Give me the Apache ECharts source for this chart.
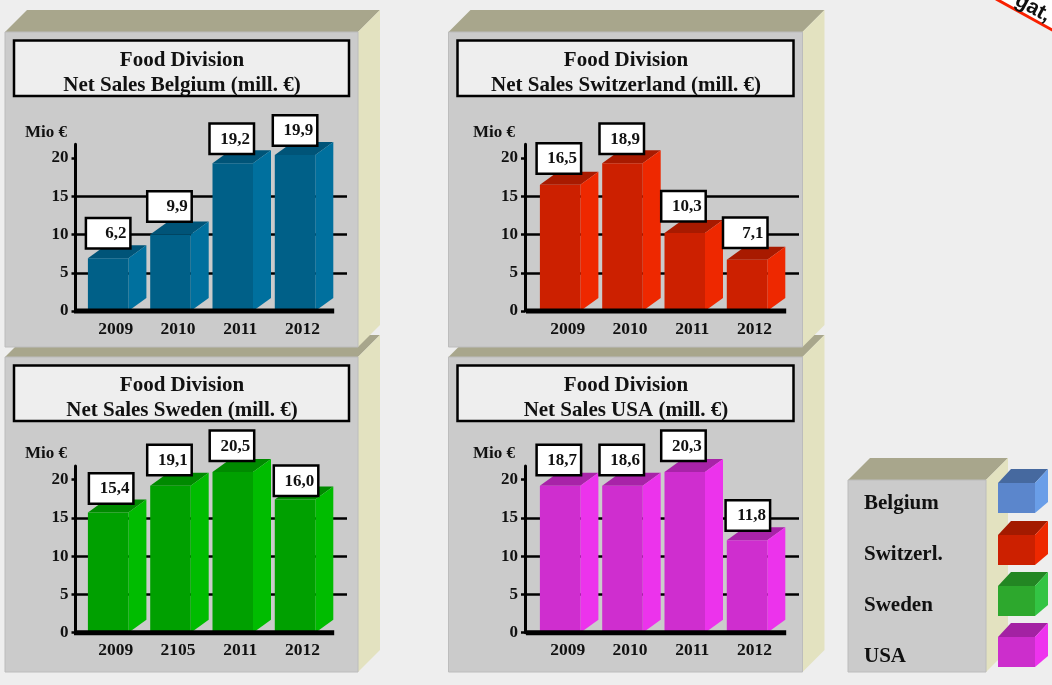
<!DOCTYPE html>
<html>
<head>
<meta charset="utf-8">
<title>Food Division Net Sales</title>
<style>
  html, body { margin: 0; padding: 0; background: #eeeeee; overflow: hidden; }
  #chart { width: 1052px; height: 685px; filter: blur(0.4px); }
</style>
<script src="https://cdn.jsdelivr.net/npm/echarts@6/dist/echarts.min.js"></script>
</head>
<body>
<div id="chart"></div>
<script>
// data: heights are what the bars show, labels what the boxes say
const belgiumYears = ["2009", "2010", "2011", "2012"];
const belgiumHeights = [6.9, 10.0, 19.3, 20.4];
const belgiumLabels = ["6,2", "9,9", "19,2", "19,9"];

const switzerlandYears = ["2009", "2010", "2011", "2012"];
const switzerlandHeights = [16.5, 19.3, 10.2, 6.7];
const switzerlandLabels = ["16,5", "18,9", "10,3", "7,1"];

const swedenYears = ["2009", "2105", "2011", "2012"];
const swedenHeights = [15.7, 19.2, 21.0, 17.4];
const swedenLabels = ["15,4", "19,1", "20,5", "16,0"];

const usaYears = ["2009", "2010", "2011", "2012"];
const usaHeights = [19.2, 19.2, 21.0, 12.1];
const usaLabels = ["18,7", "18,6", "20,3", "11,8"];

const yTicks = [0, 5, 10, 15, 20];
const legendNames = ["Belgium", "Switzerl.", "Sweden", "USA"];

const SERIF = '"Liberation Serif", serif';
const TEXT = "#111111";
const AXIS_MAX = 21.8;

// layout of the four panels, px
const panels = [
  // the lower ones go first, the upper panel covers their top face
  {
    title: "Net Sales Sweden (mill. €)", years: swedenYears, heights: swedenHeights, labels: swedenLabels,
    front: [5, 357, 353, 315], axisX: 75.5, barsX: 77, zeroY: 632.7, mioX: 25, mioY: 454,
    colors: ["#00a000", "#00bc00", "#008a00"],
    offsets: [[3, -24], [-1, -25.7], [-0.8, -26.4], [1, -18.8]]
  },
  {
    title: "Net Sales USA (mill. €)", years: usaYears, heights: usaHeights, labels: usaLabels,
    front: [448.5, 357, 354, 315], axisX: 525, barsX: 529, zeroY: 632.7, mioX: 473, mioY: 454,
    colors: ["#cf2ecf", "#ec33ec", "#a823a8"],
    offsets: [[-1.3, -25.7], [-0.7, -25.7], [-1.3, -26.4], [0.8, -24.7]]
  },
  {
    title: "Net Sales Belgium (mill. €)", years: belgiumYears, heights: belgiumHeights, labels: belgiumLabels,
    front: [5, 32, 353, 315], axisX: 75.5, barsX: 77, zeroY: 311, mioX: 25, mioY: 133,
    colors: ["#006088", "#00709e", "#005478"],
    offsets: [[0, -25], [-1, -28], [-1, -24.5], [0, -24.5]]
  },
  {
    title: "Net Sales Switzerland (mill. €)", years: switzerlandYears, heights: switzerlandHeights, labels: switzerlandLabels,
    front: [448.5, 32, 354, 315], axisX: 525, barsX: 529, zeroY: 311, mioX: 473, mioY: 133,
    colors: ["#cc2000", "#ee2800", "#a81a00"],
    offsets: [[-1.3, -26.3], [-0.7, -24.6], [-1.3, -26.6], [-1.8, -27]]
  }
];

const legendColors = [
  ["#5b86cc", "#6a9ee8", "#46699f"],
  ["#cc2000", "#ee2800", "#a31a00"],
  ["#2da82d", "#33c444", "#238623"],
  ["#cc2ecc", "#ee33ee", "#a322a3"]
];
const legendTextY = [504, 555, 606, 657];
const legendCubeY = [483, 535, 586, 637];

const BAND = 62.3;
const BAR_W = 40.5;
const DEPTH_X = 18;
const DEPTH_Y = 13;
const BOX_W = 44.5;
const BOX_H = 30.5;

const poly = (points, fill, z, stroke) => ({
  type: "polygon",
  silent: true,
  z: z,
  shape: { points: points },
  style: { fill: fill, stroke: stroke || null, lineWidth: stroke ? 1 : 0 }
});

const text = (x, y, str, size, align, z) => ({
  type: "text",
  silent: true,
  z: z,
  x: x,
  y: y,
  style: {
    text: str,
    fill: TEXT,
    font: "bold " + size + "px " + SERIF,
    textAlign: align,
    textVerticalAlign: "middle"
  }
});

// a box with a top and a right face
const boxPanel = (x, y, w, h, d, z) => [
  poly([[x, y], [x + d, y - d], [x + w + d, y - d], [x + w, y]], "#a8a68c", z),
  poly([[x + w, y], [x + w + d, y - d], [x + w + d, y + h - d], [x + w, y + h]], "#e3e2c0", z),
  poly([[x, y], [x + w, y], [x + w, y + h], [x, y + h]], "#cbcbcb", z, "#bcbcbc")
];

const graphics = [];
panels.forEach((p, i) => {
  const [x, y, w, h] = p.front;
  const z = -100 + i * 10;
  graphics.push(...boxPanel(x, y, w, h, 22, z));
  graphics.push({
    type: "rect",
    silent: true,
    z: z + 1,
    shape: { x: x + 9, y: y + 8.5, width: w - 18, height: 55.5 },
    style: { fill: "#eeeeee", stroke: "#000000", lineWidth: 2.5 }
  });
  const cx = x + w / 2 + 0.5;
  graphics.push(text(cx, y + 29, "Food Division", 21, "center", z + 2));
  graphics.push(text(cx, y + 54, p.title, 21, "center", z + 2));
  graphics.push(text(p.mioX, p.mioY, "Mio €", 17, "left", z + 2));
});

// legend block
graphics.push(...boxPanel(848, 480, 138, 192, 22, -50));
legendNames.forEach((name, i) => {
  const y = legendCubeY[i];
  const c = legendColors[i];
  graphics.push(text(864, legendTextY[i], name, 21, "left", -48));
  graphics.push(poly([[998, y], [1011, y - 14], [1048, y - 14], [1035, y]], c[2], -47));
  graphics.push(poly([[1035, y], [1048, y - 14], [1048, y + 19], [1035, y + 30]], c[1], -47));
  graphics.push(poly([[998, y], [1035, y], [1035, y + 30], [998, y + 30]], c[0], -47));
});

// badge cut off by the top right corner
graphics.push(poly([[994, -2], [1056, 33.5], [1056, -2]], "#ffffff", -60));
graphics.push({
  type: "line",
  silent: true,
  z: -59,
  shape: { x1: 996, y1: -1, x2: 1054, y2: 31 },
  style: { stroke: "#f82000", lineWidth: 3 }
});
graphics.push({
  type: "text",
  silent: true,
  z: -58,
  x: 1033,
  y: 8,
  rotation: -0.5,
  style: {
    text: "gat,",
    fill: "#111111",
    font: 'bold 21px "Liberation Sans", sans-serif',
    textAlign: "center",
    textVerticalAlign: "middle"
  }
});

const grids = [];
const xAxes = [];
const yAxes = [];
const series = [];

panels.forEach((p, i) => {
  const axisGrid = i * 2;
  const barGrid = i * 2 + 1;
  const gridBottom = 685 - p.zeroY;
  const gridTop = p.zeroY - (153 / 20) * AXIS_MAX;

  // gridlines run further right than the bars, so they get a grid of their own
  grids.push({ left: p.axisX, width: p.barsX + 270 - p.axisX, top: gridTop, bottom: gridBottom });
  grids.push({ left: p.barsX, width: BAND * 4, top: gridTop, bottom: gridBottom });

  xAxes.push({ gridIndex: axisGrid, type: "value", show: false });
  xAxes.push({
    gridIndex: barGrid,
    type: "category",
    data: p.years,
    axisLine: { show: false },
    axisTick: { show: false },
    // year labels sit under the whole block, not under the front face
    axisLabel: { color: TEXT, fontFamily: SERIF, fontWeight: "bold", fontSize: 17.5, margin: 9, padding: [0, 0, 0, 15] }
  });

  yAxes.push({
    gridIndex: axisGrid,
    type: "value",
    min: 0,
    max: AXIS_MAX,
    interval: 5,
    axisLine: { show: true, lineStyle: { color: "#000000", width: 3 } },
    axisTick: { show: true, customValues: yTicks, length: 4, lineStyle: { color: "#000000", width: 2.5 } },
    axisLabel: { customValues: yTicks, color: TEXT, fontFamily: SERIF, fontWeight: "bold", fontSize: 17, margin: 7 },
    splitLine: { show: true, showMinLine: false, showMaxLine: false, lineStyle: { color: "#000000", width: 2.5 } }
  });
  yAxes.push({ gridIndex: barGrid, type: "value", min: 0, max: AXIS_MAX, show: false });

  const [front, side, top] = p.colors;

  series.push({
    name: p.title,
    type: "custom",
    xAxisIndex: barGrid,
    yAxisIndex: barGrid,
    z: 3,
    silent: true,
    data: p.heights.map((h, idx) => [idx, h]),
    renderItem: (params, api) => {
      const t = api.coord([api.value(0), api.value(1)]);
      const b = api.coord([api.value(0), 0]);
      const l = t[0] - BAR_W / 2;
      const r = t[0] + BAR_W / 2;
      return {
        type: "group",
        children: [
          { type: "polygon", shape: { points: [[l, t[1]], [l + DEPTH_X, t[1] - DEPTH_Y], [r + DEPTH_X, t[1] - DEPTH_Y], [r, t[1]]] }, style: { fill: top } },
          { type: "polygon", shape: { points: [[r, t[1]], [r + DEPTH_X, t[1] - DEPTH_Y], [r + DEPTH_X, b[1] - DEPTH_Y], [r, b[1]]] }, style: { fill: side } },
          { type: "rect", shape: { x: l, y: t[1], width: BAR_W, height: b[1] - t[1] }, style: { fill: front } }
        ]
      };
    }
  });

  // thick x axis, stops short of the gridlines
  series.push({
    type: "custom",
    xAxisIndex: barGrid,
    yAxisIndex: barGrid,
    z: 4,
    silent: true,
    data: [[0, 0]],
    renderItem: (params, api) => {
      const c = api.coord([0, 0]);
      return {
        type: "rect",
        shape: { x: params.coordSys.x - 3, y: c[1] - 2.5, width: params.coordSys.width + 11, height: 5 },
        style: { fill: "#000000" }
      };
    }
  });

  series.push({
    type: "custom",
    xAxisIndex: barGrid,
    yAxisIndex: barGrid,
    z: 5,
    silent: true,
    data: p.heights.map((h, idx) => [idx, h]),
    renderItem: (params, api) => {
      const idx = api.value(0);
      const t = api.coord([idx, api.value(1)]);
      const off = p.offsets[idx];
      const x = t[0] + off[0] - BOX_W / 2;
      const y = t[1] + off[1] - BOX_H / 2;
      return {
        type: "group",
        children: [
          { type: "rect", shape: { x: x, y: y, width: BOX_W, height: BOX_H }, style: { fill: "#ffffff", stroke: "#000000", lineWidth: 2.5 } },
          {
            type: "text",
            x: x + BOX_W - 4,
            y: y + BOX_H / 2 + 0.5,
            style: {
              text: p.labels[idx],
              fill: TEXT,
              font: "bold 17px " + SERIF,
              textAlign: "right",
              textVerticalAlign: "middle"
            }
          }
        ]
      };
    }
  });
});

const chart = echarts.init(document.getElementById("chart"));
chart.setOption({
  backgroundColor: "#eeeeee",
  animation: false,
  tooltip: { show: false },
  grid: grids,
  xAxis: xAxes,
  yAxis: yAxes,
  series: series,
  graphic: { elements: graphics }
});
</script>
</body>
</html>
